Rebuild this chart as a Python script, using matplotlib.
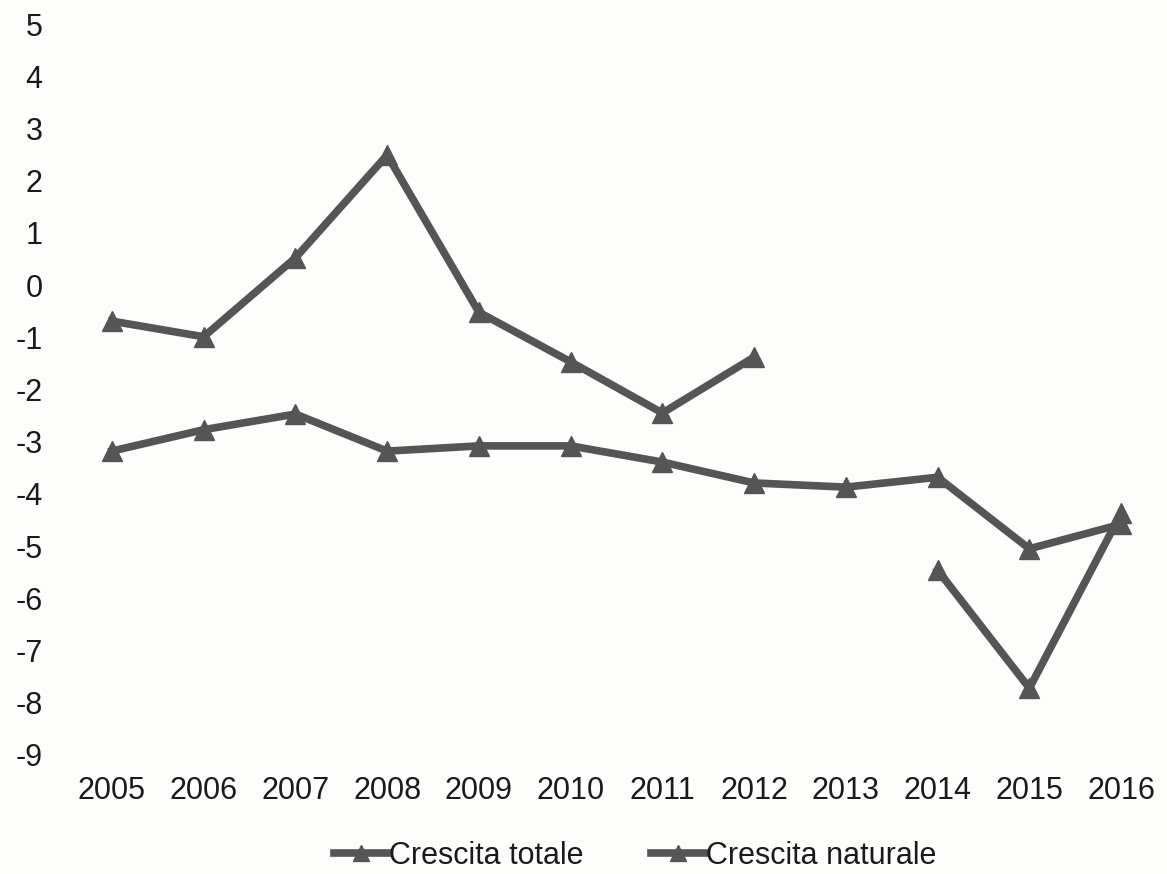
import numpy as np
import matplotlib.pyplot as plt

anni = [2005, 2006, 2007, 2008, 2009, 2010, 2011, 2012, 2013, 2014, 2015, 2016]
crescita_totale = [-0.69, -0.99, 0.52, 2.49, -0.52, -1.47, -2.45, -1.38, np.nan, -5.46, -7.72, -4.37]
crescita_naturale = [-3.18, -2.77, -2.47, -3.18, -3.08, -3.08, -3.39, -3.79, -3.87, -3.68, -5.05, -4.58]
yticks = list(range(-9, 6))

plt.rcParams["font.family"] = ["Liberation Sans", "DejaVu Sans"]
plt.rcParams["axes.unicode_minus"] = False

fig = plt.figure(figsize=(11.67, 8.74), dpi=100)
fig.patch.set_facecolor("#fdfdfb")
ax = fig.add_axes([66 / 1167, 1 - 755 / 874, 1101 / 1167, 731 / 874])
ax.set_facecolor("#fdfdfb")

colore = "#555555"
for serie, nome in [(crescita_totale, "Crescita totale"), (crescita_naturale, "Crescita naturale")]:
    ax.plot(anni, serie, color=colore, linewidth=5.5, marker="^",
            markersize=15, label=nome, clip_on=False)

ax.set_xlim(2004.5, 2016.5)
ax.set_ylim(-9, 5)
ax.set_xticks(anni)
ax.set_yticks(yticks)
ax.tick_params(axis="both", length=0, labelsize=22, colors="#1a1a1a")
ax.tick_params(axis="y", pad=17)
ax.tick_params(axis="x", pad=15)
for s in ax.spines.values():
    s.set_visible(False)

fig.legend(loc="center", bbox_to_anchor=(0.544, 1 - 856 / 874), ncol=2,
           frameon=False, fontsize=22, handlelength=1.8, handletextpad=0.0,
           columnspacing=2.2, markerscale=0.8, labelcolor="#1a1a1a")

plt.savefig("out.png", dpi=100, facecolor=fig.get_facecolor())
